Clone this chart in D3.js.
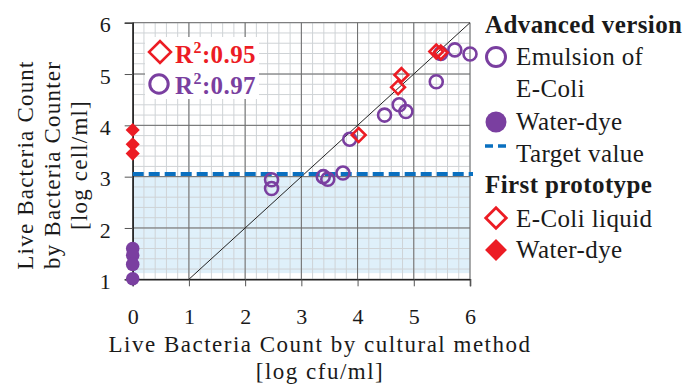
<!DOCTYPE html>
<html>
<head>
<meta charset="utf-8">
<script src="https://cdn.jsdelivr.net/npm/d3@7"></script>
<style>
  body { margin: 0; background: #fff; }
  text { font-family: "Liberation Serif", "Times New Roman", serif; fill: #1a1a1a; }
</style>
</head>
<body>
<div id="chart"></div>
<script>
// advanced version, emulsion of E-Coli  [x = cultural log cfu/ml, y = counter log cell/ml]
var emulsionX = [5.73, 6.0, 5.40, 5.48, 4.74, 4.86, 4.48, 3.86, 3.74, 3.39, 3.47, 2.47, 2.47];
var emulsionY = [5.47, 5.39, 4.85, 5.40, 4.40, 4.27, 4.20, 3.73, 3.07, 3.00, 2.95, 2.94, 2.77];
// advanced version, water-dye
var advDyeX = [0, 0, 0, 0];
var advDyeY = [1.60, 1.47, 1.29, 1.01];
// first prototype, E-Coli liquid
var liquidX = [5.40, 5.48, 4.78, 4.72, 4.02];
var liquidY = [5.44, 5.42, 4.98, 4.74, 3.81];
// first prototype, water-dye
var protoDyeX = [0, 0, 0];
var protoDyeY = [3.91, 3.63, 3.45];

var targetValue = 3.05;
var r2Labels = ["R", ":0.95", ":0.97"];
var xTicks = [0, 1, 2, 3, 4, 5, 6];
var yTicks = [1, 2, 3, 4, 5, 6];

const W = 687, H = 385;
const M = { TOP: 22.7, LEFT: 132.7, RIGHT: 217, BOTTOM: 105.7 };
const RED = "#ec1c24", PURPLE = "#7a3fa0", BLUE = "#0a70c0";

const svg = d3.select("#chart").append("svg")
  .attr("width", W).attr("height", H);

var x = d3.scaleLinear().domain([0, 6]).range([M.LEFT, W - M.RIGHT]);
var y = d3.scaleLinear().domain([1, 6]).range([H - M.BOTTOM, M.TOP]);

// shaded zone below target
svg.append("rect")
  .attr("x", x(0)).attr("y", y(3))
  .attr("width", x(6) - x(0)).attr("height", y(1.12) - y(3))
  .attr("fill", "#dff0fa");

// minor grid
var minor = d3.range(0, 6.001, 0.2);
var minorY = d3.range(1, 6.001, 0.2);
svg.append("g").selectAll("line").data(minor).enter().append("line")
  .attr("x1", d => x(d)).attr("x2", d => x(d))
  .attr("y1", y(1)).attr("y2", y(6))
  .attr("stroke", "#cfd3d6").attr("stroke-width", 1);
svg.append("g").selectAll("line").data(minorY).enter().append("line")
  .attr("y1", d => y(d)).attr("y2", d => y(d))
  .attr("x1", x(0)).attr("x2", x(6))
  .attr("stroke", "#cfd3d6").attr("stroke-width", 1);

// major grid
svg.append("g").selectAll("line").data(xTicks).enter().append("line")
  .attr("x1", d => x(d)).attr("x2", d => x(d))
  .attr("y1", y(1)).attr("y2", y(6))
  .attr("stroke", "#6b6b6b").attr("stroke-width", 1);
svg.append("g").selectAll("line").data(yTicks).enter().append("line")
  .attr("y1", d => y(d)).attr("y2", d => y(d))
  .attr("x1", x(0)).attr("x2", x(6))
  .attr("stroke", "#6b6b6b").attr("stroke-width", 1);

// axes
var xAxis = svg.append("g")
  .attr("transform", `translate(0, ${y(1)})`)
  .call(d3.axisBottom(x).tickValues(xTicks).tickSize(7).tickPadding(22).tickFormat(d3.format("d")));
var yAxis = svg.append("g")
  .attr("transform", `translate(${x(0)}, 0)`)
  .call(d3.axisLeft(y).tickValues(yTicks).tickSize(8).tickPadding(14).tickFormat(d3.format("d")));
[xAxis, yAxis].forEach(function (g) {
  g.select(".domain").attr("stroke", "#222").attr("stroke-width", 1.5);
  g.selectAll(".tick line").attr("stroke", "#555");
  g.selectAll(".tick text").style("font-size", "22px")
    .style("font-family", "Liberation Serif, serif").attr("fill", "#1a1a1a");
});
yAxis.selectAll(".tick text").attr("dy", "0.42em");

// y = x line
svg.append("line")
  .attr("x1", x(1)).attr("y1", y(1)).attr("x2", x(6)).attr("y2", y(6))
  .attr("stroke", "#222").attr("stroke-width", 1);

// target value
svg.append("line")
  .attr("x1", x(0)).attr("x2", x(6) + 3)
  .attr("y1", y(targetValue)).attr("y2", y(targetValue))
  .attr("stroke", BLUE).attr("stroke-width", 4).attr("stroke-dasharray", "11,5");

var diamond = function (s) { return d3.symbol(d3.symbolSquare, s)(); };

// emulsion circles
svg.append("g").selectAll("circle").data(emulsionX).enter().append("circle")
  .attr("cx", (d, i) => x(d)).attr("cy", (d, i) => y(emulsionY[i]))
  .attr("r", 6.5).attr("fill", "none")
  .attr("stroke", PURPLE).attr("stroke-width", 2.6);

// E-Coli liquid diamonds
svg.append("g").selectAll("path").data(liquidX).enter().append("path")
  .attr("d", diamond(95))
  .attr("transform", (d, i) => `translate(${x(d)},${y(liquidY[i])}) rotate(45)`)
  .attr("fill", "none").attr("stroke", RED).attr("stroke-width", 2.6);

// water-dye markers
svg.append("g").selectAll("path").data(protoDyeX).enter().append("path")
  .attr("d", diamond(100))
  .attr("transform", (d, i) => `translate(${x(d)},${y(protoDyeY[i])}) rotate(45)`)
  .attr("fill", RED);
svg.append("g").selectAll("circle").data(advDyeX).enter().append("circle")
  .attr("cx", d => x(d)).attr("cy", (d, i) => y(advDyeY[i]))
  .attr("r", 6.8).attr("fill", PURPLE);

// R² annotation
svg.append("rect").attr("x", 145).attr("y", 37).attr("width", 114).attr("height", 62)
  .attr("fill", "#fff");
svg.append("path").attr("d", diamond(240))
  .attr("transform", "translate(160,52) rotate(45)")
  .attr("fill", "none").attr("stroke", RED).attr("stroke-width", 2.6);
svg.append("circle").attr("cx", 159).attr("cy", 84).attr("r", 9.2)
  .attr("fill", "none").attr("stroke", PURPLE).attr("stroke-width", 3);
[[r2Labels[1], RED, 63], [r2Labels[2], PURPLE, 94]].forEach(function (row) {
  var t = svg.append("text").attr("x", 175).attr("y", row[2])
    .style("font-size", "25px").style("font-weight", "bold").style("fill", row[1])
    .style("letter-spacing", "0.4px");
  t.append("tspan").text(r2Labels[0]);
  t.append("tspan").attr("dy", -10).style("font-size", "16px").text("2");
  t.append("tspan").attr("dy", 10).text(row[0]);
});

// axis titles
var xTitle = ["Live Bacteria Count by cultural method", "[log cfu/ml]"];
svg.append("g").selectAll("text").data(xTitle).enter().append("text")
  .attr("x", 320).attr("y", (d, i) => 352 + i * 27)
  .attr("text-anchor", "middle")
  .style("font-size", "23px").style("letter-spacing", "1.5px")
  .text(d => d);

var yTitle = ["Live Bacteria Count", "by Bacteria Counter", "[log cell/ml]"];
svg.append("g").selectAll("text").data(yTitle).enter().append("text")
  .attr("transform", (d, i) => `translate(${33 + i * 27},165) rotate(-90)`)
  .attr("text-anchor", "middle")
  .style("font-size", "23px").style("letter-spacing", "1.2px")
  .text(d => d);

// legend
var lg = svg.append("g");
var legendBold = [["Advanced version", 33], ["First prototype", 193]];
lg.selectAll("text.b").data(legendBold).enter().append("text")
  .attr("x", 485).attr("y", d => d[1])
  .style("font-size", "25px").style("font-weight", "bold").style("letter-spacing", "0.4px")
  .text(d => d[0]);
var legendText = [["Emulsion of", 65], ["E-Coli", 97], ["Water-dye", 130],
  ["Target value", 162], ["E-Coli liquid", 227], ["Water-dye", 258]];
lg.selectAll("text.n").data(legendText).enter().append("text")
  .attr("x", 516).attr("y", d => d[1])
  .style("font-size", "25px").style("letter-spacing", "0.4px")
  .text(d => d[0]);
lg.append("circle").attr("cx", 496).attr("cy", 57).attr("r", 9.5)
  .attr("fill", "none").attr("stroke", PURPLE).attr("stroke-width", 3);
lg.append("circle").attr("cx", 496).attr("cy", 122).attr("r", 10.5).attr("fill", PURPLE);
lg.append("line").attr("x1", 485).attr("x2", 508).attr("y1", 146).attr("y2", 146)
  .attr("stroke", BLUE).attr("stroke-width", 3.5).attr("stroke-dasharray", "8,5");
lg.append("path").attr("d", diamond(210))
  .attr("transform", "translate(496,218) rotate(45)")
  .attr("fill", "none").attr("stroke", RED).attr("stroke-width", 2.8);
lg.append("path").attr("d", diamond(240))
  .attr("transform", "translate(496,250) rotate(45)")
  .attr("fill", RED);
</script>
</body>
</html>
